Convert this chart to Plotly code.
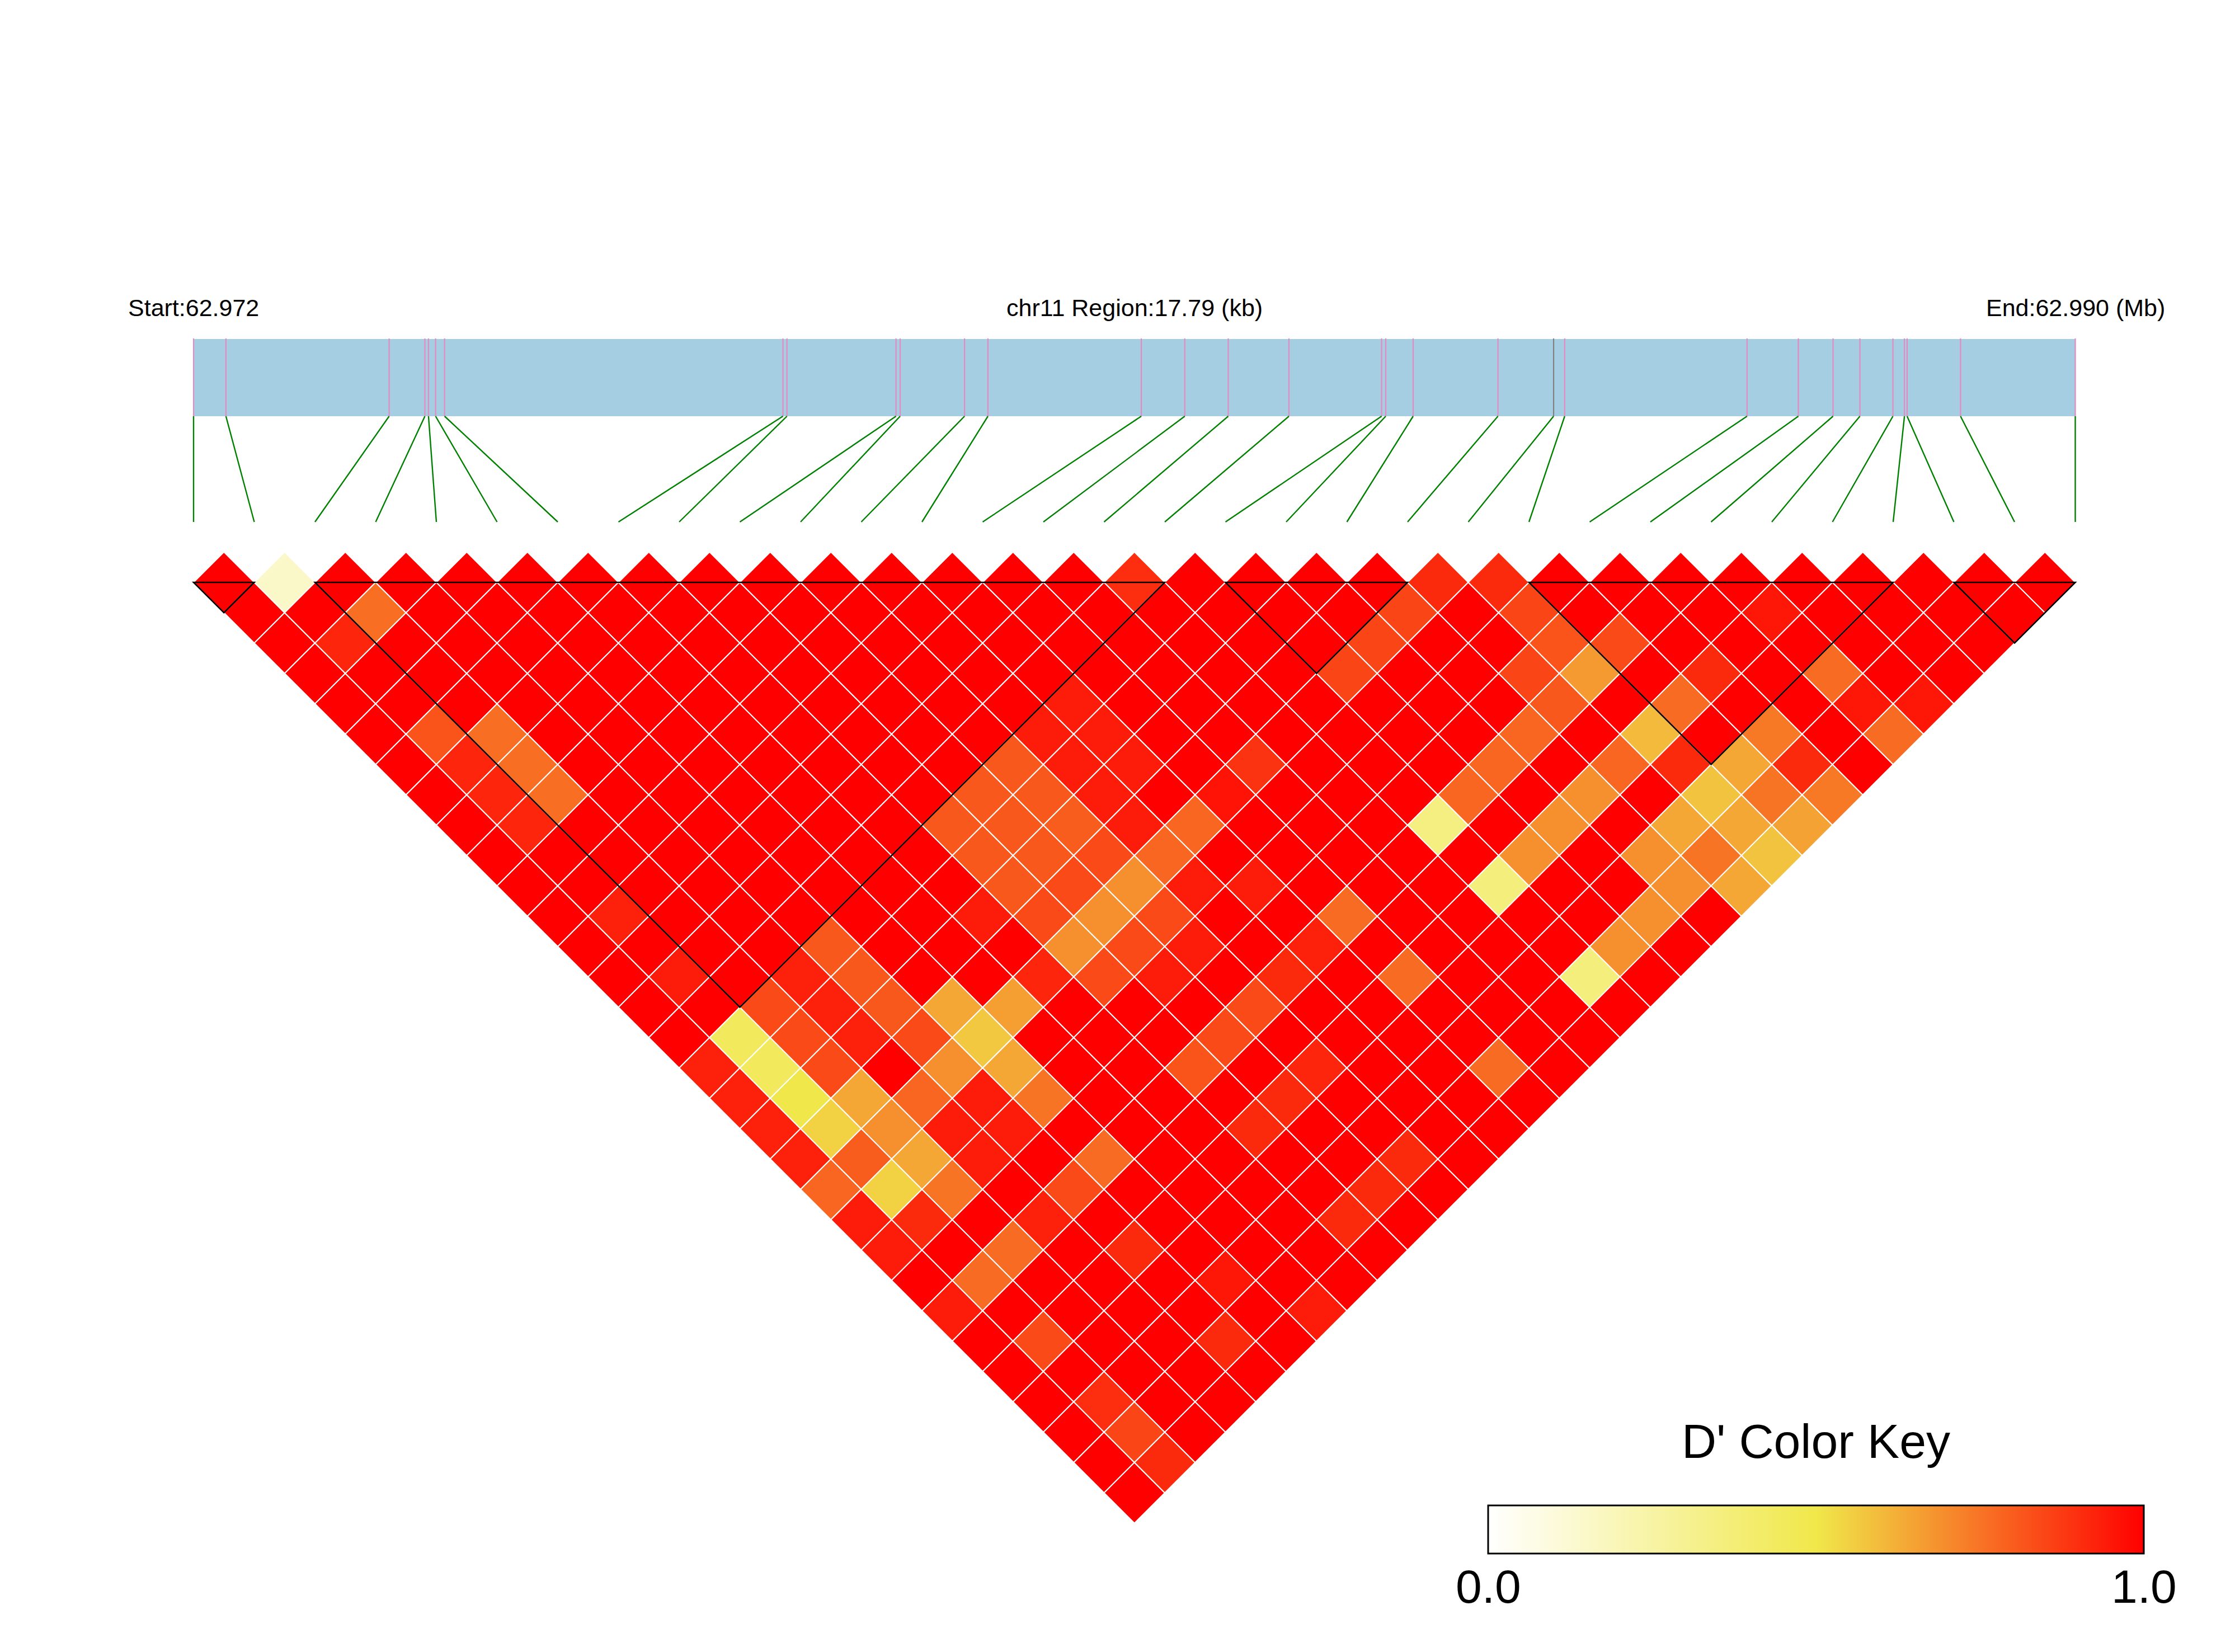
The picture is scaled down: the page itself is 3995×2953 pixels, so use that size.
import plotly.graph_objects as go
from plotly.colors import sample_colorscale

# ---------------- data ----------------
CHROM = "chr11"
# SNP positions (bp)
SNP_POS = [62972180, 62972486, 62974029, 62974367, 62974401, 62974468, 62974553,
           62977752, 62977790, 62978821, 62978860, 62979469, 62979690, 62981140,
           62981551, 62981962, 62982536, 62983412, 62983451, 62983710, 62984512,
           62985038, 62985143, 62986867, 62987352, 62987680, 62987934, 62988246,
           62988355, 62988380, 62988885, 62989970]
HIGHLIGHT_SNP = 21   # drawn in grey on the gene bar

# Pairwise D' : row i holds D'(i, j) for j = i+1 .. 31
DPRIME = [
    [1, 1, 1, 1, 1, 1, 1, 1, 1, 1, 1, 1, 1, 1, 1, 1, .93, .93, .93, .93, .78, .94, .94, 1, .94, 1, 1, 1, 1, 1, 1],
    [.15, 1, .92, 1, 1, .82, .92, .92, .92, 1, 1, .93, 1, .94, 1, .45, .45, .5, .55, .8, .55, .91, 1, .77, 1, .84, 1, .9, .85, .91],
    [1, .76, 1, 1, 1, .76, .76, .76, 1, 1, 1, 1, 1, 1, .84, .84, .84, .64, .69, .64, .75, 1, .77, 1, 1, 1, 1, 1, 1],
    [1, 1, 1, 1, 1, 1, 1, 1, 1, 1, 1, 1, 1, .93, .93, .93, 1, .78, .94, .94, 1, .93, 1, 1, 1, 1, 1, 1],
    [1, 1, 1, 1, 1, 1, 1, 1, 1, 1, 1, 1, .81, .81, .81, .84, .69, .94, .94, 1, .84, 1, .91, 1, 1, .91, 1],
    [1, 1, 1, 1, 1, 1, 1, 1, 1, 1, 1, 1, 1, 1, .64, .57, .64, .75, 1, .77, 1, 1, 1, .95, 1, 1],
    [1, 1, 1, 1, 1, 1, 1, 1, 1, 1, 1, 1, 1, 1, .66, 1, 1, 1, 1, 1, 1, 1, 1, 1, .94],
    [1, 1, 1, 1, 1, 1, 1, 1, 1, 1, 1, .94, 1, .92, 1, 1, 1, 1, 1, 1, 1, 1, 1, 1],
    [1, 1, 1, 1, 1, 1, 1, 1, .81, .81, .81, .84, .69, .84, 1, 1, .82, 1, .91, 1, 1, .91, 1],
    [1, 1, 1, 1, 1, 1, 1, .81, .81, .81, .84, .69, .84, .94, 1, .84, 1, .91, 1, 1, .91, 1],
    [1, 1, 1, 1, 1, 1, .81, .81, .8, .84, .69, .84, .94, 1, .84, 1, .92, 1, 1, .91, 1],
    [1, 1, 1, 1, 1, .94, .94, .94, .94, .78, .94, 1, 1, .91, 1, 1, 1, 1, 1, 1],
    [1, 1, 1, 1, .94, .94, .94, 1, .78, 1, .94, 1, .93, 1, 1, 1, 1, 1, 1],
    [1, 1, 1, 1, 1, 1, 1, .96, 1, 1, 1, .77, 1, .77, 1, 1, .77, 1],
    [1, 1, 1, 1, 1, 1, .89, 1, 1, 1, 1, 1, 1, 1, 1, 1, 1],
    [.9, 1, 1, 1, 1, 1, 1, 1, 1, 1, 1, 1, 1, 1, 1, 1],
    [1, 1, 1, 1, 1, 1, 1, 1, .35, 1, .36, 1, 1, .36, 1],
    [1, 1, 1, .85, 1, 1, 1, .78, 1, .69, 1, 1, .69, 1],
    [1, 1, .85, 1, 1, 1, .78, 1, .69, 1, 1, .69, 1],
    [1, .85, 1, 1, 1, .78, 1, .69, 1, .69, .69, 1],
    [.91, 1, 1, .85, .81, 1, .78, 1, .64, .75, .64],
    [.91, .85, .82, .67, 1, .6, .91, .58, .64, .58],
    [1, 1, .84, 1, .77, 1, .64, .75, .65],
    [1, 1, 1, .91, 1, .74, .91, .74],
    [1, 1, 1, 1, 1, 1, 1],
    [1, .95, 1, .77, .95, .77],
    [1, 1, 1, 1, .95],
    [1, 1, 1, 1],
    [1, 1, 1],
    [1, 1],
    [1],
]
# haplotype blocks (first SNP, last SNP)
BLOCKS = [(0, 1), (2, 16), (17, 20), (22, 28), (29, 31)]
KEY_TICKS = [0.0, 1.0]

# ---------------- layout constants ----------------
W, H = 3995, 2953
X0_PX, UNIT_PX, TOP_PX = 346.0, 108.5, 1041.0
FONT = "Liberation Sans, Arial, Helvetica, sans-serif"
COLORSCALE = [[0.0, "#FFFFFF"], [0.5, "#F0E84A"], [1.0, "#FF0000"]]
KEY_LEFT_PX, KEY_LEN_PX, KEY_TOP_PX, KEY_THICK_PX = 2660, 1172, 2691, 86


def yd(px):
    return (TOP_PX - px) / UNIT_PX


n = len(SNP_POS)
span = SNP_POS[-1] - SNP_POS[0]
gx = [(p - SNP_POS[0]) / span * (n - 1) for p in SNP_POS]

shapes = []
bar_top, bar_bot, fan_bot, label_y = yd(606), yd(744), yd(933), yd(550)
shapes.append(dict(type="rect", x0=0, x1=n - 1, y0=bar_bot, y1=bar_top,
                   fillcolor="#A6CEE3", line=dict(width=0), layer="below"))
for k, x in enumerate(gx):
    col = "#808080" if k == HIGHLIGHT_SNP else "#E58AC0"
    shapes.append(dict(type="line", x0=x, x1=x, y0=bar_bot, y1=bar_top + 0.01,
                       line=dict(color=col, width=2.2)))
    shapes.append(dict(type="line", x0=x, x1=k, y0=bar_bot, y1=fan_bot,
                       line=dict(color="#008000", width=2.4)))

xs, ys, vals, txt = [], [], [], []
for i, row in enumerate(DPRIME):
    for k, v in enumerate(row):
        j = i + 1 + k
        cx = (i + j) / 2.0
        cy = -(j - i - 1) / 2.0
        color = sample_colorscale(COLORSCALE, [v])[0]
        path = (f"M{cx - 0.5},{cy} L{cx},{cy + 0.5} L{cx + 0.5},{cy} "
                f"L{cx},{cy - 0.5} Z")
        shapes.append(dict(type="path", path=path, fillcolor=color,
                           line=dict(color="white", width=2)))
        xs.append(cx)
        ys.append(cy)
        vals.append(v)
        txt.append(f"SNP{i + 1} - SNP{j + 1}")

for a, b in BLOCKS:
    path = f"M{a},0 L{b},0 L{(a + b) / 2.0},{-(b - a) / 2.0} Z"
    shapes.append(dict(type="path", path=path, fillcolor="rgba(0,0,0,0)",
                       line=dict(color="black", width=2.6)))

fig = go.Figure()
fig.add_trace(go.Scatter(
    x=xs, y=ys, mode="markers", text=txt,
    hovertemplate="%{text}<br>D'=%{marker.color}<extra></extra>",
    marker=dict(size=30, opacity=0, color=vals, colorscale=COLORSCALE,
                cmin=0, cmax=1, showscale=True,
                colorbar=dict(orientation="h",
                              x=(KEY_LEFT_PX + KEY_LEN_PX / 2) / W, xanchor="center",
                              y=1 - KEY_TOP_PX / H, yanchor="top",
                              len=KEY_LEN_PX, lenmode="pixels",
                              thickness=KEY_THICK_PX, thicknessmode="pixels",
                              outlinecolor="black", outlinewidth=3,
                              xpad=0, ypad=0, ticks="", showticklabels=False)),
    showlegend=False))

annotations = [
    dict(x=0, y=label_y, xref="x", yref="y", text=f"Start:{SNP_POS[0] / 1e6:.3f}",
         showarrow=False, xanchor="center", yanchor="middle",
         font=dict(size=43, color="black", family=FONT)),
    dict(x=(n - 1) / 2.0, y=label_y, xref="x", yref="y",
         text=f"{CHROM} Region:{span / 1000:.2f} (kb)",
         showarrow=False, xanchor="center", yanchor="middle",
         font=dict(size=43, color="black", family=FONT)),
    dict(x=n - 1, y=label_y, xref="x", yref="y",
         text=f"End:{SNP_POS[-1] / 1e6:.3f} (Mb)",
         showarrow=False, xanchor="center", yanchor="middle",
         font=dict(size=43, color="black", family=FONT)),
    dict(x=(KEY_LEFT_PX + KEY_LEN_PX / 2) / W, y=1 - 2576 / H, xref="paper", yref="paper",
         text="D' Color Key", showarrow=False, xanchor="center", yanchor="middle",
         font=dict(size=86, color="black", family=FONT)),
]
for tv in KEY_TICKS:
    annotations.append(dict(
        x=(KEY_LEFT_PX + tv * KEY_LEN_PX) / W, y=1 - 2836 / H,
        xref="paper", yref="paper", text=f"{tv:.1f}", showarrow=False,
        xanchor="center", yanchor="middle",
        font=dict(size=84, color="black", family=FONT)))

fig.update_layout(
    width=W, height=H, margin=dict(l=0, r=0, t=0, b=0),
    paper_bgcolor="white", plot_bgcolor="white",
    xaxis=dict(range=[-X0_PX / UNIT_PX, (W - X0_PX) / UNIT_PX], visible=False,
               fixedrange=True),
    yaxis=dict(range=[yd(H), yd(0)], visible=False, fixedrange=True),
    shapes=shapes, annotations=annotations,
    font=dict(family=FONT),
)

fig.write_html("out.html")
